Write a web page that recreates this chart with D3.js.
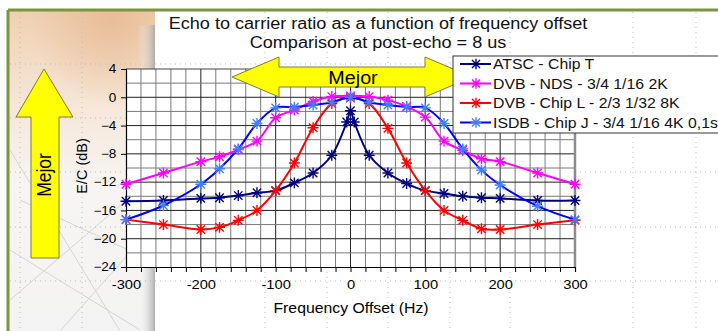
<!DOCTYPE html>
<html>
<head>
<meta charset="utf-8">
<script src="https://cdn.jsdelivr.net/npm/d3@7"></script>
<style>
  body { margin: 0; background: #fff; }
  text { font-family: "Liberation Sans", Arial, sans-serif; }
</style>
</head>
<body>
<svg id="chart" width="718" height="331"></svg>
<script>
"use strict"
// Data
var atscX = [-300, -250, -200, -175, -150, -125, -100, -75, -50, -25, -5, 0, 5, 25, 50, 75, 100, 125, 150, 175, 200, 250, 300];
var atscY = [-14.7, -14.6, -14.3, -14.2, -13.9, -13.5, -13.2, -12.1, -10.7, -8.2, -3.5, -1.9, -3.5, -8.2, -10.7, -12.2, -13.2, -13.6, -14.0, -14.2, -14.3, -14.6, -14.6];

var dvbNdsX = [-300, -250, -200, -175, -150, -125, -100, -75, -50, -25, 0, 25, 50, 75, 100, 125, 150, 175, 200, 250, 300];
var dvbNdsY = [-12.3, -10.7, -9.1, -8.4, -7.4, -6.2, -2.9, -1.8, -0.6, 0.1, 0.2, 0.1, -0.4, -1.3, -2.8, -6.2, -7.5, -8.7, -9.1, -10.7, -12.3];

var dvbLX = [-300, -250, -200, -175, -150, -125, -100, -75, -50, -25, 0, 25, 50, 75, 100, 125, 150, 175, 200, 250, 300];
var dvbLY = [-17.3, -18.0, -18.7, -18.4, -17.4, -16.0, -13.2, -9.3, -4.3, -0.9, -0.1, -0.9, -4.4, -9.3, -13.2, -16.0, -17.4, -18.6, -18.7, -18.0, -17.4];

var isdbX = [-300, -250, -200, -175, -150, -125, -100, -75, -50, -25, 0, 25, 50, 75, 100, 125, 150, 175, 200, 250, 300];
var isdbY = [-17.3, -15.3, -12.3, -10.1, -7.3, -3.7, -1.5, -1.4, -1.1, -0.7, 0.0, -0.7, -1.1, -1.4, -1.5, -3.7, -7.3, -10.3, -12.4, -15.4, -17.3];

var seriesNames = ["ATSC - Chip T", "DVB - NDS - 3/4 1/16 2K", "DVB - Chip L - 2/3 1/32 8K", "ISDB - Chip J - 3/4 1/16 4K 0,1s"];
var lineColors = ["#000080", "#ff00ff", "#ff0000", "#0000ff"];
var markerColors = ["#000080", "#ff00ff", "#ff0000", "#3f7fff"];

var yTicks = [4, 0, -4, -8, -12, -16, -20, -24];
var xTicks = [-300, -200, -100, 0, 100, 200, 300];

var titleLines = ["Echo to carrier ratio as a function of frequency offset", "Comparison at post-echo = 8 us"];

// Layout
var plot = { left: 126, right: 575, top: 69, bottom: 267 };
var stretch = 1.13; // the picture's text is a bit wider than tall
var svg = d3.select("#chart");
var xScale = d3.scaleLinear().domain([-300, 300]).range([plot.left, plot.right]);
var yScale = d3.scaleLinear().domain([-24, 4]).range([plot.bottom, plot.top]);

function wideText(sel, x, y) {
    return sel.attr("transform", "translate(" + x + "," + y + ") scale(" + stretch + ",1)");
}

var defs = svg.append("defs");
var peach = defs.append("linearGradient").attr("id", "peach").attr("x1", 0).attr("y1", 0).attr("x2", 0).attr("y2", 1);
peach.append("stop").attr("offset", "0").attr("stop-color", "#efd0b0");
peach.append("stop").attr("offset", "0.3").attr("stop-color", "#f6e7d8");
peach.append("stop").attr("offset", "0.55").attr("stop-color", "#f7f5f2");
peach.append("stop").attr("offset", "1").attr("stop-color", "#f3f3f3");
var glow = defs.append("radialGradient").attr("id", "glow").attr("cx", 0.7).attr("cy", 0.05).attr("r", 0.55);
glow.append("stop").attr("offset", "0").attr("stop-color", "#e6b48c").attr("stop-opacity", 0.7);
glow.append("stop").attr("offset", "1").attr("stop-color", "#e6b48c").attr("stop-opacity", 0);
var edge = defs.append("linearGradient").attr("id", "edge").attr("x1", 0).attr("y1", 0).attr("x2", 1).attr("y2", 0);
edge.append("stop").attr("offset", "0").attr("stop-color", "#ffffff").attr("stop-opacity", 0);
edge.append("stop").attr("offset", "1").attr("stop-color", "#a8a8a8").attr("stop-opacity", 0.9);

// slide background: left panel + green frame
svg.append("rect").attr("x", 8).attr("y", 10).attr("width", 147).attr("height", 321).attr("fill", "url(#peach)");
svg.append("rect").attr("x", 8).attr("y", 10).attr("width", 147).attr("height", 160).attr("fill", "url(#glow)");
svg.append("rect").attr("x", 138).attr("y", 25).attr("width", 17).attr("height", 306).attr("fill", "url(#edge)");

// faint sketch lines in the panel
var sketch = [[10, 300, 150, 180], [10, 250, 140, 330], [20, 200, 150, 260], [60, 331, 150, 230], [10, 150, 120, 331]];
svg.append("g").selectAll("line").data(sketch).enter().append("line")
    .attr("x1", function(d) { return d[0] }).attr("y1", function(d) { return d[1] })
    .attr("x2", function(d) { return d[2] }).attr("y2", function(d) { return d[3] })
    .attr("stroke", "#d4d4d4").attr("stroke-width", 1);

svg.append("line").attr("x1", 8).attr("x2", 718).attr("y1", 10).attr("y2", 10).attr("stroke", "#7a963c").attr("stroke-width", 3);
svg.append("line").attr("x1", 8).attr("x2", 8).attr("y1", 10).attr("y2", 331).attr("stroke", "#7a963c").attr("stroke-width", 3);

// dotted slide guides
var guideX = [20, 82, 265, 327, 388, 450, 510, 633, 696];
var guideY = [64, 118, 172, 227, 281];
var guides = svg.append("g").attr("stroke", "#bdbdbd").attr("stroke-dasharray", "1,4");
guides.selectAll(".gx").data(guideX).enter().append("line")
    .attr("x1", function(d) { return d }).attr("x2", function(d) { return d })
    .attr("y1", 12).attr("y2", 331);
guides.selectAll(".gy").data(guideY).enter().append("line")
    .attr("x1", 10).attr("x2", 718)
    .attr("y1", function(d) { return d }).attr("y2", function(d) { return d });

// plot area
svg.append("rect").attr("x", plot.left).attr("y", plot.top)
    .attr("width", plot.right - plot.left).attr("height", plot.bottom - plot.top).attr("fill", "#fff");

var grid = svg.append("g");
grid.selectAll(".vg").data(d3.range(-280, 300, 20)).enter().append("line")
    .attr("x1", function(d) { return xScale(d) }).attr("x2", function(d) { return xScale(d) })
    .attr("y1", plot.top).attr("y2", plot.bottom)
    .attr("stroke", function(d) { return d % 100 === 0 ? "#222" : "#7a7a7a" })
    .attr("stroke-width", 1);
grid.selectAll(".hg").data(d3.range(-22, 4, 2)).enter().append("line")
    .attr("x1", plot.left).attr("x2", plot.right)
    .attr("y1", function(d) { return yScale(d) }).attr("y2", function(d) { return yScale(d) })
    .attr("stroke", function(d) { return d % 4 === 0 ? "#222" : "#7a7a7a" })
    .attr("stroke-width", 1);
svg.append("line").attr("x1", plot.left).attr("x2", plot.right).attr("y1", plot.top).attr("y2", plot.top)
    .attr("stroke", "#444");
svg.append("line").attr("x1", plot.right).attr("x2", plot.right).attr("y1", plot.top).attr("y2", plot.bottom)
    .attr("stroke", "#8c8c8c").attr("stroke-width", 2.5);

// axes
var xAxis = d3.axisBottom(xScale).tickValues(d3.range(-300, 301, 20)).tickSize(5)
    .tickFormat(function(d) { return xTicks.indexOf(d) >= 0 ? d : "" });
var yAxis = d3.axisLeft(yScale).tickValues(yTicks).tickSize(5);

var gx = svg.append("g").attr("transform", "translate(0," + plot.bottom + ")").call(xAxis);
var gy = svg.append("g").attr("transform", "translate(" + plot.left + ",0)").call(yAxis);
[gx, gy].forEach(function(g) {
    g.select(".domain").attr("stroke", "#000").attr("stroke-width", 1.2);
    g.selectAll(".tick line").attr("stroke", "#000");
    g.selectAll(".tick text").attr("fill", "#000")
        .style("font-family", "'Liberation Sans', Arial, sans-serif")
        .attr("transform", "scale(" + stretch + ",1)");
});
gx.selectAll(".tick text").style("font-size", "13px").attr("dy", "0.71em").attr("y", 13);
gy.selectAll(".tick text").style("font-size", "12px").attr("x", -8.5);

wideText(svg.append("text"), 351, 313).attr("text-anchor", "middle")
    .style("font-size", "14px").text("Frequency Offset (Hz)");
svg.append("text").attr("transform", "translate(87,166) rotate(-90)").attr("text-anchor", "middle")
    .style("font-size", "14.5px").text("E/C (dB)");

// title
svg.selectAll(".title").data(titleLines).enter().append("text")
    .attr("class", "title")
    .attr("transform", function(d, i) { return "translate(378," + (29 + i * 19) + ") scale(" + stretch + ",1)" })
    .attr("text-anchor", "middle").style("font-size", "16px").attr("fill", "#111")
    .text(function(d) { return d });

// series
var series = [
    { xs: atscX, ys: atscY },
    { xs: dvbNdsX, ys: dvbNdsY },
    { xs: dvbLX, ys: dvbLY },
    { xs: isdbX, ys: isdbY }
].map(function(s, i) {
    return {
        name: seriesNames[i], color: lineColors[i], mcolor: markerColors[i],
        values: s.xs.map(function(x, j) { return { x: x, y: s.ys[j] } })
    };
});

var line = d3.line()
    .x(function(d) { return xScale(d.x) })
    .y(function(d) { return yScale(d.y) })
    .curve(d3.curveCatmullRom.alpha(0.5));

function star(s) {
    return "M" + (-s) + "," + (-s) + "L" + s + "," + s +
        "M" + (-s) + "," + s + "L" + s + "," + (-s) +
        "M0," + (-s * 1.3) + "L0," + (s * 1.3) +
        "M" + (-s * 1.3) + ",0L" + (s * 1.3) + ",0";
}

var sg = svg.append("g").selectAll(".series").data(series).enter().append("g").attr("class", "series");
sg.append("path")
    .attr("d", function(d) { return line(d.values) })
    .attr("fill", "none").attr("stroke", function(d) { return d.color })
    .attr("stroke-width", 2).attr("stroke-linejoin", "round");
sg.each(function(s) {
    d3.select(this).selectAll(".m").data(s.values).enter().append("path")
        .attr("transform", function(d) { return "translate(" + xScale(d.x) + "," + yScale(d.y) + ")" })
        .attr("d", star(4.2)).attr("stroke", s.mcolor).attr("stroke-width", 1.4).attr("fill", "none");
});

// arrows
function hArrow(x0, x1, cy, head, hh, sh) {
    return "M" + x0 + "," + cy +
        "L" + (x0 + head) + "," + (cy - hh) + "L" + (x0 + head) + "," + (cy - sh) +
        "L" + (x1 - head) + "," + (cy - sh) + "L" + (x1 - head) + "," + (cy - hh) +
        "L" + x1 + "," + cy +
        "L" + (x1 - head) + "," + (cy + hh) + "L" + (x1 - head) + "," + (cy + sh) +
        "L" + (x0 + head) + "," + (cy + sh) + "L" + (x0 + head) + "," + (cy + hh) + "Z";
}
svg.append("path").attr("d", hArrow(232, 472, 77, 47, 20, 10))
    .attr("fill", "#ffff00").attr("stroke", "#7c7c3a").attr("stroke-width", 1);
wideText(svg.append("text"), 353, 83.5).attr("text-anchor", "middle")
    .style("font-size", "17.5px").text("Mejor");

var vArrow = "M44,69L73,117L59,117L59,258L31,258L31,117L16,117Z";
svg.append("path").attr("d", vArrow).attr("fill", "#ffff00").attr("stroke", "#7c7c3a").attr("stroke-width", 1);
svg.append("text").attr("transform", "translate(51,175) rotate(-90) scale(1,1.13)").attr("text-anchor", "middle")
    .style("font-size", "17.5px").text("Mejor");

// legend
var legend = svg.append("g");
legend.append("rect").attr("x", 453).attr("y", 56).attr("width", 280).attr("height", 77)
    .attr("fill", "#fff").attr("stroke", "#333").attr("stroke-width", 1);
var li = legend.selectAll(".li").data(series).enter().append("g")
    .attr("transform", function(d, i) { return "translate(0," + (64 + i * 19.5) + ")" });
li.append("line").attr("x1", 460).attr("x2", 491).attr("y1", 0).attr("y2", 0)
    .attr("stroke", function(d) { return d.color }).attr("stroke-width", 2);
li.append("path").attr("transform", "translate(476,0)").attr("d", star(4))
    .attr("stroke", function(d) { return d.mcolor }).attr("stroke-width", 1.4).attr("fill", "none");
li.append("text").attr("transform", "translate(493,5) scale(" + stretch + ",1)")
    .style("font-size", "14px").attr("fill", "#111")
    .text(function(d) { return d.name });
</script>
</body>
</html>
